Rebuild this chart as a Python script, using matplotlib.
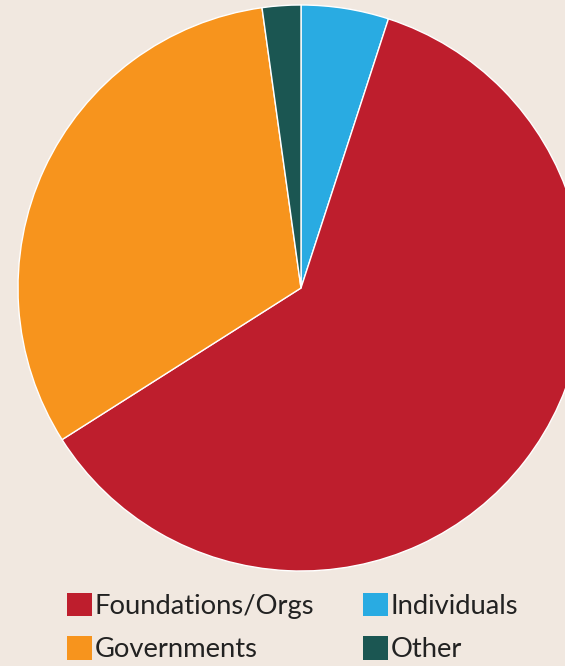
import matplotlib.pyplot as plt
from matplotlib.patches import Patch

# Funding sources, share in percent (clockwise from 12 o'clock)
labels = ['Individuals', 'Foundations/Orgs', 'Governments', 'Other']
shares = [5, 61, 31.8, 2.2]
colors = ['#29ABE2', '#BE1E2D', '#F7941D', '#1B5652']

bg = '#F1E8E0'
W, H = 565, 666

fig = plt.figure(figsize=(W / 100, H / 100), dpi=100, facecolor=bg)

# pie centre at (301, 288) px, radius 283 px
cx, cy, r = 301, 288, 283
ax = fig.add_axes([(cx - r) / W, (H - cy - r) / H, 2 * r / W, 2 * r / H])
ax.set_facecolor(bg)
ax.pie(shares, colors=colors, startangle=90, counterclock=False,
       radius=1, wedgeprops=dict(edgecolor='white', linewidth=1))
ax.set_xlim(-1, 1)
ax.set_ylim(-1, 1)
ax.set_aspect('equal')
ax.axis('off')

# legend, filled column-wise
order = ['Foundations/Orgs', 'Governments', 'Individuals', 'Other']
handles = [Patch(facecolor=colors[labels.index(l)], label=l) for l in order]
fig.legend(handles=handles, ncol=2, loc='upper left',
           bbox_to_anchor=(67 / W, 1 - 593 / H), frameon=False,
           prop={'family': 'Lato', 'size': 19.7},
           labelcolor='#222222',
           handlelength=0.92, handleheight=0.92, handletextpad=0.08,
           columnspacing=1.8, labelspacing=0.64, borderpad=0,
           borderaxespad=0)

fig.savefig('out.png', dpi=100, facecolor=bg)
